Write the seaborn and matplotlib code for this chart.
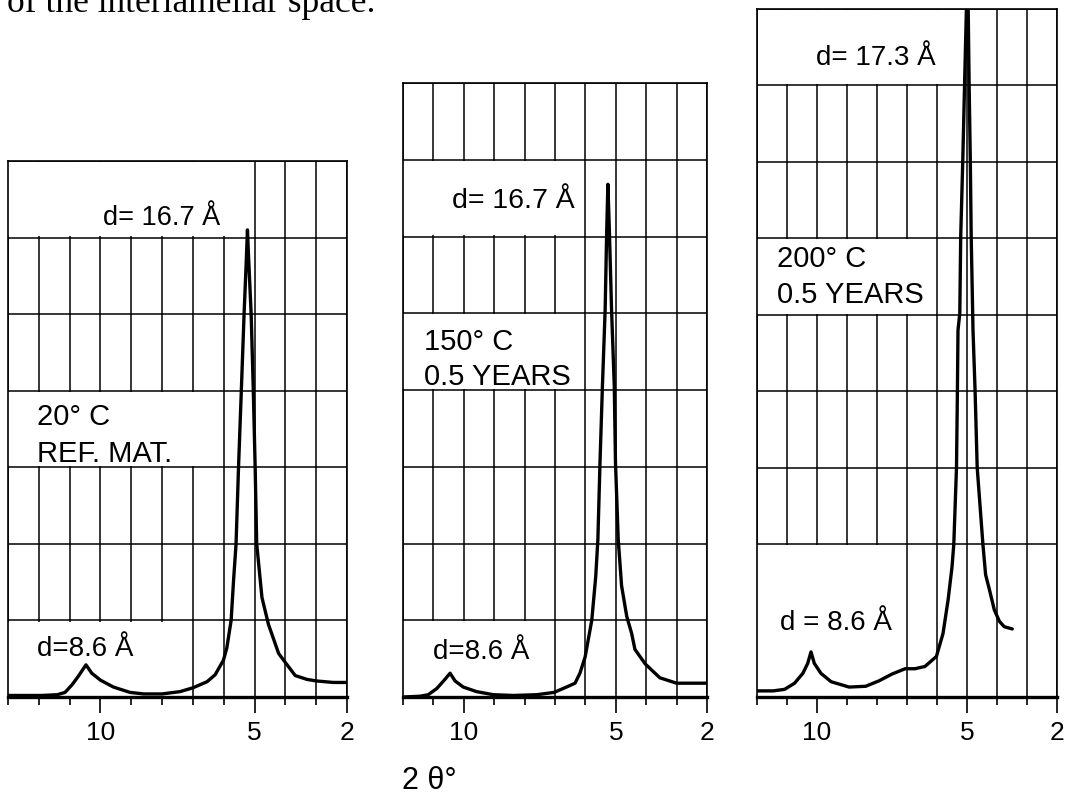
import matplotlib
matplotlib.use("Agg")
import matplotlib.pyplot as plt
from matplotlib.patches import Rectangle
import numpy as np
import pandas as pd
import seaborn as sns

# ---- X-ray diffractograms: 2-theta (deg) vs. intensity (chart-paper divisions) ----
ref_2theta = [13.0, 11.9, 11.4, 11.15, 10.92, 10.72, 10.47, 10.28, 10.0, 9.58, 9.04,
              8.6, 8.0, 7.42, 7.0, 6.54, 6.28, 6.01, 5.9, 5.76, 5.68, 5.6, 5.52, 5.42,
              5.34, 5.28, 5.23, 5.2, 5.11, 5.04, 4.98, 4.93, 4.76, 4.55, 4.22, 4.0,
              3.68, 3.3, 3.0, 2.45, 2.0]
ref_intensity = [0.02, 0.02, 0.03, 0.06, 0.16, 0.27, 0.42, 0.31, 0.22, 0.13, 0.06,
                 0.04, 0.04, 0.07, 0.12, 0.2, 0.29, 0.48, 0.64, 1.0, 1.53, 2.0, 3.0, 4.1,
                 5.0, 5.58, 6.1, 5.8, 5.0, 4.0, 3.0, 2.0, 1.3, 0.95, 0.57, 0.45,
                 0.28, 0.23, 0.21, 0.19, 0.19]

y150_2theta = [12.0, 11.44, 11.17, 10.89, 10.62, 10.45, 10.29, 10.02, 9.58, 9.03, 8.37,
               7.6, 7.03, 6.62, 6.34, 6.18, 6.01, 5.79, 5.66, 5.59, 5.52, 5.44, 5.35,
               5.3, 5.26, 5.21, 5.14, 5.05, 5.01, 4.92, 4.81, 4.64, 4.48, 4.37, 4.03,
               3.55, 3.0, 2.0]
y150_intensity = [0.0, 0.01, 0.03, 0.11, 0.23, 0.31, 0.21, 0.13, 0.07, 0.03, 0.02,
                  0.03, 0.06, 0.13, 0.18, 0.31, 0.52, 1.0, 1.57, 2.05, 3.05, 4.05, 5.05,
                  6.06, 6.68, 6.06, 5.05, 4.05, 3.05, 2.05, 1.45, 1.05, 0.83, 0.62, 0.43,
                  0.25, 0.18, 0.18]

y200_2theta = [12.0, 11.46, 11.08, 10.75, 10.47, 10.31, 10.2, 10.09, 9.87, 9.53, 8.93,
               8.38, 7.94, 7.5, 7.06, 6.73, 6.4, 6.02, 5.8, 5.63, 5.5, 5.44, 5.35, 5.32,
               5.3, 5.24, 5.21, 5.14, 5.08, 5.02, 4.96, 4.93, 4.89, 4.86, 4.8, 4.73,
               4.66, 4.47, 4.38, 4.25, 4.09, 3.92, 3.76, 3.49]
y200_intensity = [0.08, 0.08, 0.1, 0.18, 0.31, 0.44, 0.59, 0.44, 0.31, 0.2, 0.13,
                  0.14, 0.21, 0.3, 0.37, 0.37, 0.4, 0.53, 0.83, 1.27, 1.7, 2.0, 3.0, 4.0,
                  4.8, 5.02, 6.02, 7.03, 8.03, 9.0, 9.0, 8.03, 7.03, 6.02, 4.8, 4.0,
                  3.0, 2.0, 1.6, 1.4, 1.14, 0.99, 0.92, 0.89]

tick_values = [10, 5, 2]
tick_labels = ["10", "5", "2"]

peak_labels = ["d= 16.7 Å", "d= 16.7 Å", "d= 17.3 Å"]
basal_labels = ["d=8.6 Å", "d=8.6 Å", "d = 8.6 Å"]
condition_labels = [["20° C", "REF. MAT."], ["150° C", "0.5 YEARS"], ["200° C", "0.5 YEARS"]]
axis_label = "2 θ°"
running_text = "of the interlamellar space."

# ---- style ----
sns.set_theme(style="white", rc={"axes.axisbelow": True, "text.color": "black",
                                 "xtick.color": "black", "axes.labelcolor": "black"})
plt.rcParams["font.family"] = ["Liberation Sans", "DejaVu Sans"]

W, H = 1065, 794
fig = plt.figure(figsize=(W / 100, H / 100), dpi=100)
fig.patch.set_facecolor("white")

# pixel frame of each chart-paper strip, x-range, number of rows,
# horizontal rulings left out, and cells kept clear for lettering
panels = [
    dict(frame=(8, 161, 347, 697), left=13, rows=7, skip=[],
         blanks=[(5, 13, 6, 7), (6, 13, 3, 4), (7, 13, 0, 1)],
         x=ref_2theta, y=ref_intensity,
         peak_pos=(9.92, 6.16, 19.5), cond_pos=(12.06, 3.55, 3.07), basal_pos=(12.06, 0.53)),
    dict(frame=(403, 83, 707, 697), left=12, rows=8, skip=[],
         blanks=[(6, 12, 6, 7), (6, 12, 4, 5), (7, 12, 0, 1)],
         x=y150_2theta, y=y150_intensity,
         peak_pos=(10.4, 6.37, 20.5), cond_pos=(11.31, 4.52, 4.07), basal_pos=(11.01, 0.5)),
    dict(frame=(757, 9, 1057, 697), left=12, rows=9, skip=[1],
         blanks=[(5, 11, 8, 9), (6, 12, 5, 6), (7, 12, 0, 2)],
         x=y200_2theta, y=y200_intensity,
         peak_pos=(10.02, 8.27, 20), cond_pos=(11.34, 5.63, 5.15), basal_pos=(11.24, 0.88)),
]

for i, p in enumerate(panels):
    x0, y0, x1, y1 = p["frame"]
    ax = fig.add_axes([x0 / W, 1 - y1 / H, (x1 - x0) / W, (y1 - y0) / H])
    ax.set_facecolor("white")
    ax.set_xlim(p["left"], 2)
    ax.set_ylim(0, p["rows"])

    # chart-paper rulings: one column per degree, one row per division
    ax.set_xticks(tick_values)
    ax.set_xticklabels(tick_labels)
    ax.set_xticks(np.arange(2, p["left"] + 1), minor=True)
    ax.set_yticks([r for r in range(p["rows"] + 1) if r not in p["skip"]])
    ax.set_yticklabels([])
    ax.grid(which="both", axis="x", color="black", linewidth=1.1)
    ax.grid(which="major", axis="y", color="black", linewidth=1.1)

    # clear cells where the lettering sits
    for xr, xl, yb, yt in p["blanks"]:
        ax.add_patch(Rectangle((xr + 0.06, yb + 0.014), (xl - xr) + 0.5, (yt - yb) - 0.028,
                               facecolor="white", edgecolor="none", zorder=1))

    for side in ["left", "right", "top"]:
        ax.spines[side].set_visible(True)
        ax.spines[side].set_color("black")
        ax.spines[side].set_linewidth(1.2)
    ax.spines["bottom"].set_color("black")
    ax.spines["bottom"].set_linewidth(2.4)

    ax.tick_params(axis="x", which="major", direction="out", length=11.5, width=1.2,
                   color="black", pad=6, labelsize=19, labelcolor="black", bottom=True)
    ax.tick_params(axis="x", which="minor", direction="out", length=5.8, width=1.2,
                   color="black", bottom=True)
    ax.tick_params(axis="y", which="both", left=False, length=0)

    trace = pd.DataFrame({"two_theta": p["x"], "intensity": p["y"]})
    sns.lineplot(data=trace, x="two_theta", y="intensity", ax=ax, color="black",
                 linewidth=2.4, sort=False, estimator=None, zorder=3)
    ax.set_xlabel("")
    ax.set_ylabel("")

    px, py, ps = p["peak_pos"]
    ax.text(px, py, peak_labels[i], fontsize=ps, ha="left", va="baseline",
            color="black", zorder=4)
    cx, cy1, cy2 = p["cond_pos"]
    ax.text(cx, cy1, condition_labels[i][0], fontsize=21, ha="left", va="baseline",
            color="black", zorder=4)
    ax.text(cx, cy2, condition_labels[i][1], fontsize=21, ha="left", va="baseline",
            color="black", zorder=4)
    bx, by = p["basal_pos"]
    ax.text(bx, by, basal_labels[i], fontsize=20, ha="left", va="baseline",
            color="black", zorder=4)

fig.text(402 / W, 1 - 789 / H, axis_label, fontsize=22, ha="left", va="baseline",
         color="black")
fig.text(7 / W, 1 - 12 / H, running_text, fontsize=25.5, ha="left", va="baseline",
         color="black", family=["Liberation Serif", "DejaVu Serif"])

fig.savefig("out.png", dpi=100, facecolor="white")
